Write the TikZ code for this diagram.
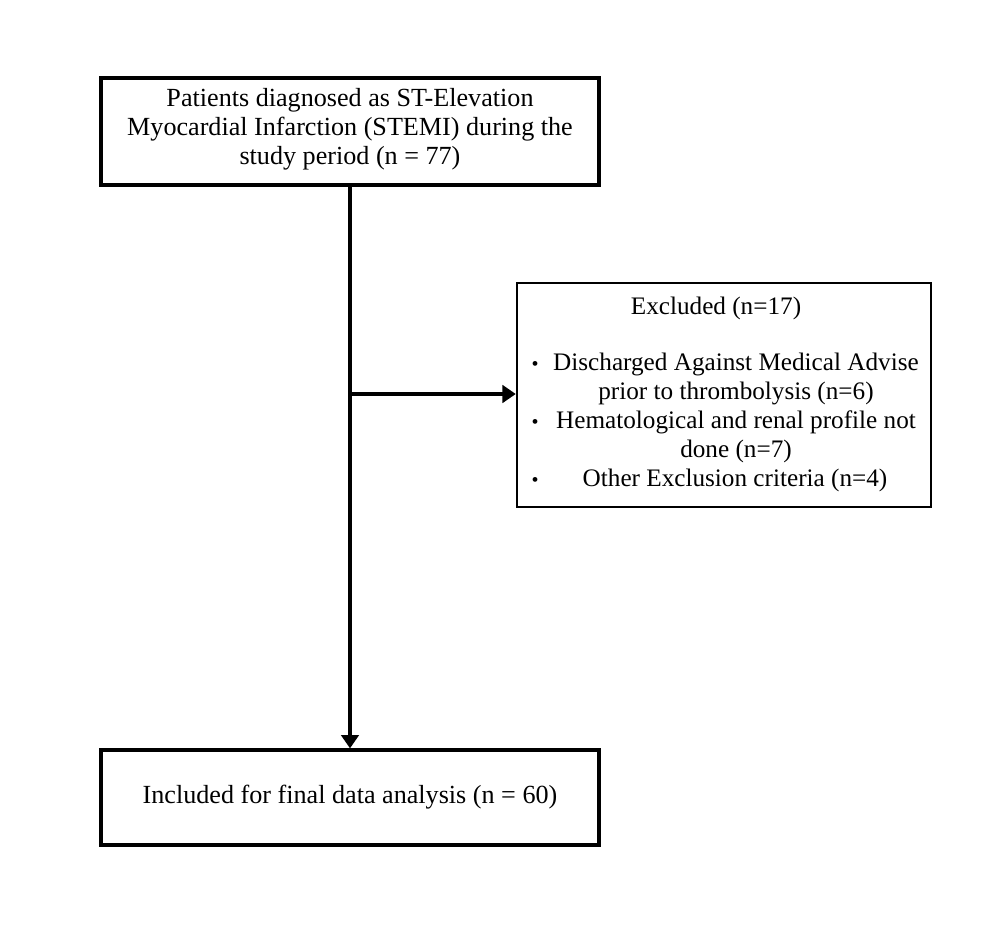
\documentclass[tikz,border=0pt]{standalone}
\usepackage{fontspec}
\setmainfont{Liberation Serif}
\usetikzlibrary{arrows.meta}
\begin{document}
\begin{tikzpicture}[x=0.75pt,y=-0.75pt,
  boxstyle/.style={draw=black,line width=2.4pt,inner sep=0pt},
  thinbox/.style={draw=black,line width=1.8pt,inner sep=0pt},
  txt/.style={font=\fontsize{19.6}{21.8}\selectfont,inner sep=0pt,align=center},
  txts/.style={font=\fontsize{18.9}{21.8}\selectfont,inner sep=0pt,align=center},
  bul/.style={font=\fontsize{15}{16}\selectfont,inner sep=0pt},
  conn/.style={line width=2.9pt,-{Triangle[length=10pt,width=13pt]}}]
\useasboundingbox (0,0) rectangle (986,925);
\node[boxstyle,minimum width=498*0.75pt,minimum height=107*0.75pt] (top) at (350,131.5) {};
\node[txt] (toptext) at (350,129) {Patients diagnosed as ST-Elevation\\Myocardial Infarction (STEMI) during the\\study period (n = 77)};
\node[thinbox,minimum width=414*0.75pt,minimum height=224*0.75pt] (exc) at (724,395) {};
\node[txts] (exctitle) at (716,308) {Excluded (n=17)};
\node[txts] (l1) at (736,408) {Discharged Against Medical Advise\\prior to thrombolysis (n=6)\\Hematological and renal profile not\\done (n=7)};
\node[txts] (l5) at (735,480) {Other Exclusion criteria (n=4)};
\node[bul] (b1) at (535,366) {•};
\node[bul] (b2) at (535,424) {•};
\node[bul] (b3) at (535,482) {•};
\node[boxstyle,minimum width=498*0.75pt,minimum height=95*0.75pt] (bot) at (350,797.5) {};
\node[txt] (bottext) at (350,797) {Included for final data analysis (n = 60)};
\coordinate (branch) at (top.south |- 0,394);
\draw[conn] (top.south) -- (bot.north);
\draw[conn] (branch) -- (branch -| exc.west);
\end{tikzpicture}
\end{document}
